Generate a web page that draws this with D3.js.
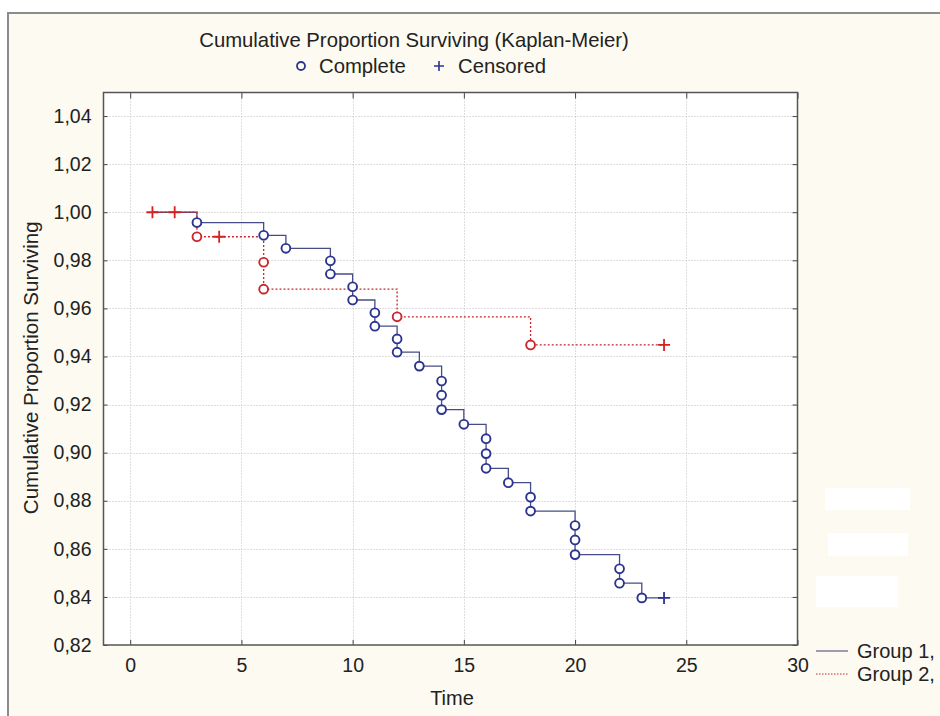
<!DOCTYPE html>
<html>
<head>
<meta charset="utf-8">
<script src="https://cdn.jsdelivr.net/npm/d3@7"></script>
<style>
  body { margin: 0; background: #fff; }
  svg { display: block; font-family: "Liberation Sans", Arial, sans-serif; }
</style>
</head>
<body>
<svg id="chart"></svg>
<script>
var width = 940,
    height = 716;

// Group 1 (solid, blue)
var g1CompleteTime  = [3, 6, 7, 9, 9, 10, 10, 11, 11, 12, 12, 13, 14, 14, 14, 15, 16, 16, 16, 17, 18, 18, 20, 20, 20, 22, 22, 23];
var g1CompleteValue = [0.9957, 0.9904, 0.985, 0.9798, 0.9743, 0.969, 0.9635, 0.9582, 0.9526, 0.9473, 0.9418, 0.936,
                       0.9298, 0.9239, 0.9179, 0.9118, 0.9058, 0.8996, 0.8935, 0.8875, 0.8815, 0.8757,
                       0.8697, 0.8637, 0.8576, 0.8517, 0.8457, 0.8396];
var g1CensoredTime  = [24];
var g1CensoredValue = [0.8396];

// Group 2 (dotted, red)
var g2CompleteTime  = [3, 6, 6, 12, 18];
var g2CompleteValue = [0.9898, 0.9792, 0.968, 0.9565, 0.9448];
var g2CensoredTime  = [1, 2, 4, 24];
var g2CensoredValue = [1.0, 1.0, 0.9898, 0.9448];

var startTime = 1, startValue = 1.0;

var xTicks = [0, 5, 10, 15, 20, 25, 30];
var yTicks = [0.82, 0.84, 0.86, 0.88, 0.90, 0.92, 0.94, 0.96, 0.98, 1.00, 1.02, 1.04];
var groupNames = ["Group 1,", "Group 2,"];

var blue = "#2b3590", blueLine = "#474c86", red = "#c8282c";

var svg = d3.select("#chart")
    .attr("width", width)
    .attr("height", height);

// frame / background
svg.append("rect")
    .attr("x", 8).attr("y", 13)
    .attr("width", width + 10).attr("height", height + 10)
    .attr("fill", "#fdfaf1")
    .attr("stroke", "#8c8c8c")
    .attr("stroke-width", 2);

var plot = {left: 103.5, right: 797.5, top: 92.5, bottom: 645};

var x = d3.scaleLinear().domain([-1.2, 30]).range([plot.left, plot.right]);
var y = d3.scaleLinear().domain([0.82, 1.0498]).range([plot.bottom, plot.top]);
var fmt = function(d) { return d3.format(".2f")(d).replace(".", ","); };

svg.append("rect")
    .attr("x", plot.left).attr("y", plot.top)
    .attr("width", plot.right - plot.left).attr("height", plot.bottom - plot.top)
    .attr("fill", "#fff");

// grid
var grid = svg.append("g").attr("class", "grid")
    .attr("stroke", "#bdbdbd").attr("stroke-dasharray", "1,2").attr("stroke-width", 1);
grid.selectAll("line.gx")
    .data(xTicks.filter(function(d) { return d < 30; }))
    .enter().append("line")
    .attr("x1", function(d) { return Math.round(x(d)) + 0.5; })
    .attr("x2", function(d) { return Math.round(x(d)) + 0.5; })
    .attr("y1", plot.top).attr("y2", plot.bottom);
grid.selectAll("line.gy")
    .data(yTicks.filter(function(d) { return d > 0.82; }))
    .enter().append("line")
    .attr("y1", function(d) { return Math.round(y(d)) + 0.5; })
    .attr("y2", function(d) { return Math.round(y(d)) + 0.5; })
    .attr("x1", plot.left).attr("x2", plot.right);

// axes with inner ticks
svg.append("g")
    .attr("transform", "translate(0," + plot.bottom + ")")
    .call(d3.axisBottom(x).tickValues(xTicks).tickSize(-5).tickPadding(13).tickFormat(d3.format("d")))
    .call(function(g) { g.select(".domain").remove(); });
svg.append("g")
    .attr("transform", "translate(0," + plot.top + ")")
    .call(d3.axisTop(x).tickValues(xTicks).tickSize(-6).tickFormat(""))
    .call(function(g) { g.select(".domain").remove(); });
svg.append("g")
    .attr("transform", "translate(" + plot.left + ",0)")
    .call(d3.axisLeft(y).tickValues(yTicks).tickSize(-4).tickPadding(12).tickFormat(fmt))
    .call(function(g) { g.select(".domain").remove(); });
svg.append("g")
    .attr("transform", "translate(" + plot.right + ",0)")
    .call(d3.axisRight(y).tickValues(yTicks).tickSize(-5).tickFormat(""))
    .call(function(g) { g.select(".domain").remove(); });

svg.selectAll(".tick line").attr("stroke", "#444");
svg.selectAll(".tick text").attr("font-size", 19.5).attr("fill", "#222")
    .attr("font-family", "'Liberation Sans', Arial, sans-serif");

svg.append("rect")
    .attr("x", plot.left).attr("y", plot.top)
    .attr("width", plot.right - plot.left).attr("height", plot.bottom - plot.top)
    .attr("fill", "none").attr("stroke", "#555").attr("stroke-width", 1.5);

// KM step lines
function kmPoints(ct, cv, st, sv) {
    var pts = [[startTime, startValue]];
    ct.forEach(function(t, i) { pts.push([t, cv[i]]); });
    st.forEach(function(t, i) { pts.push([t, sv[i]]); });
    pts.sort(function(a, b) { return a[0] - b[0] || b[1] - a[1]; });
    return pts;
}
var line = d3.line()
    .x(function(d) { return x(d[0]); })
    .y(function(d) { return y(d[1]); })
    .curve(d3.curveStepAfter);

svg.append("path")
    .datum(kmPoints(g1CompleteTime, g1CompleteValue, g1CensoredTime, g1CensoredValue))
    .attr("d", line).attr("fill", "none")
    .attr("stroke", blueLine).attr("stroke-width", 1.3);

svg.append("path")
    .datum(kmPoints(g2CompleteTime, g2CompleteValue, g2CensoredTime, g2CensoredValue))
    .attr("d", line).attr("fill", "none")
    .attr("stroke", red).attr("stroke-width", 1.3).attr("stroke-dasharray", "2,2");

// markers
function circles(ts, vs, col) {
    svg.append("g").selectAll("circle")
        .data(ts.map(function(t, i) { return [t, vs[i]]; }))
        .enter().append("circle")
        .attr("cx", function(d) { return x(d[0]); })
        .attr("cy", function(d) { return y(d[1]); })
        .attr("r", 4.4)
        .attr("fill", "#fff").attr("stroke", col).attr("stroke-width", 1.9);
}
function crosses(ts, vs, col) {
    svg.append("g").selectAll("path")
        .data(ts.map(function(t, i) { return [t, vs[i]]; }))
        .enter().append("path")
        .attr("d", function(d) {
            var cx = x(d[0]), cy = y(d[1]);
            return "M" + (cx - 6) + "," + cy + "H" + (cx + 6) + "M" + cx + "," + (cy - 6) + "V" + (cy + 6);
        })
        .attr("stroke", col).attr("stroke-width", 1.8);
}
circles(g2CompleteTime, g2CompleteValue, red);
crosses(g2CensoredTime, g2CensoredValue, "#d42222");
circles(g1CompleteTime, g1CompleteValue, blue);
crosses(g1CensoredTime, g1CensoredValue, blue);

// titles
svg.append("text")
    .attr("x", 414).attr("y", 47).attr("text-anchor", "middle")
    .attr("font-size", 20.3).attr("fill", "#222")
    .text("Cumulative Proportion Surviving (Kaplan-Meier)");

var lg = svg.append("g");
lg.append("circle").attr("cx", 301).attr("cy", 66).attr("r", 4)
    .attr("fill", "none").attr("stroke", blue).attr("stroke-width", 1.8);
lg.append("text").attr("x", 319).attr("y", 73).attr("font-size", 20.3).attr("fill", "#222").text("Complete");
lg.append("path").attr("d", "M434,66H444M439,61V71").attr("stroke", blue).attr("stroke-width", 1.6);
lg.append("text").attr("x", 458).attr("y", 73).attr("font-size", 20.3).attr("fill", "#222").text("Censored");

svg.append("text")
    .attr("x", 452).attr("y", 705).attr("text-anchor", "middle")
    .attr("font-size", 20).attr("fill", "#222").text("Time");

svg.append("text")
    .attr("transform", "translate(38," + ((plot.top + plot.bottom) / 2 - 1) + ") rotate(-90)")
    .attr("text-anchor", "middle")
    .attr("font-size", 20.5).attr("fill", "#222").text("Cumulative Proportion Surviving");

// leftover white boxes on the right
[[825, 488, 85, 22], [828, 533, 80, 23], [816, 576, 82, 31]].forEach(function(b) {
    svg.append("rect").attr("x", b[0]).attr("y", b[1]).attr("width", b[2]).attr("height", b[3]).attr("fill", "#fff");
});

// group legend
var gl = svg.append("g").selectAll("g")
    .data(groupNames).enter().append("g")
    .attr("transform", function(d, i) { return "translate(0," + (651 + i * 23) + ")"; });
gl.append("line").attr("x1", 816).attr("x2", 848).attr("y1", 0).attr("y2", 0)
    .attr("stroke", function(d, i) { return i ? red : "#7a7c96"; })
    .attr("stroke-width", function(d, i) { return i ? 1 : 1.5; })
    .attr("stroke-dasharray", function(d, i) { return i ? "1.5,1.5" : null; });
gl.append("text").attr("x", 857).attr("y", 7).attr("font-size", 20).attr("fill", "#222")
    .text(function(d) { return d; });
</script>
</body>
</html>
